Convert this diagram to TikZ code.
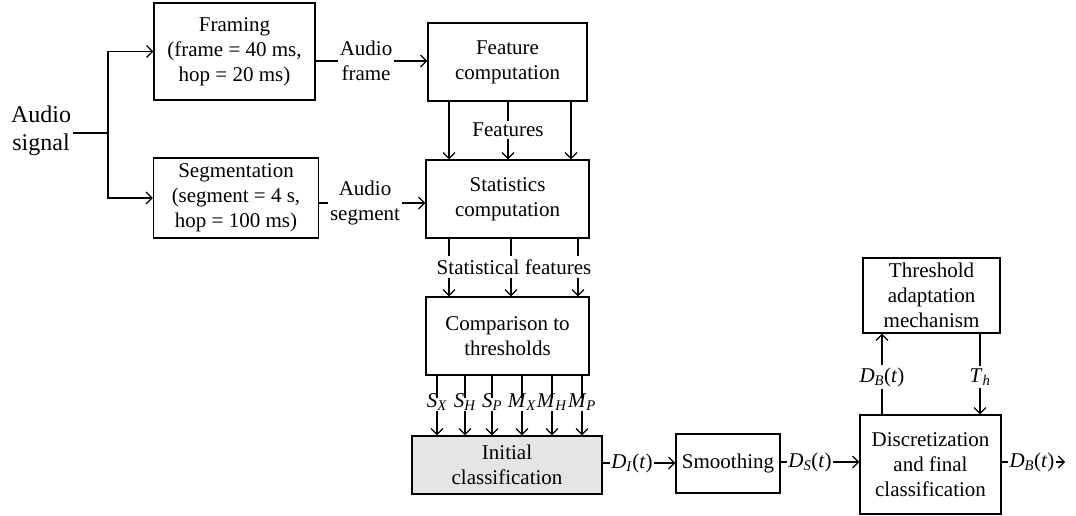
\documentclass[tikz,border=0pt]{standalone}
\usepackage{fontspec}
\setmainfont{Liberation Serif}
\usetikzlibrary{arrows.meta}
\newcommand{\mi}[1]{\textit{#1}}
\newcommand{\sbs}[2]{\textit{#1}\textsubscript{\textit{#2}}}
\begin{document}
\begin{tikzpicture}[x=1pt,y=-1pt,
  every node/.style={font=\fontsize{21}{25}\selectfont, align=center},
  blk/.style={draw, line width=1.2pt, inner sep=0pt},
  lbl/.style={inner sep=2pt},
  sym/.style={inner sep=0pt, text height=13pt, text depth=6pt},
  conn/.style={line width=1.2pt},
  arr/.style={conn, -{Straight Barb[length=6pt,width=12pt,line width=1.2pt]}},
]
\useasboundingbox (0,0) rectangle (1076,516);
% boxes
\node[blk, minimum width=161pt, minimum height=97pt] (fr) at (234.5,51.5) {Framing\\(frame = 40 ms,\\hop = 20 ms)};
\node[blk, minimum width=165pt, minimum height=80pt] (sg) at (236,198) {Segmentation\\(segment = 4 s,\\hop = 100 ms)};
\node[blk, minimum width=159pt, minimum height=78pt] (fc) at (507.5,62) {Feature\\computation};
\node[blk, minimum width=163pt, minimum height=78pt] (sc) at (507.5,199) {Statistics\\computation};
\node[blk, minimum width=163pt, minimum height=78pt] (cp) at (507.5,336) {Comparison to\\thresholds};
\node[blk, fill=black!10, minimum width=190pt, minimum height=58pt] (ic) at (507,465) {Initial\\classification};
\node[blk, minimum width=104pt, minimum height=59pt] (sm) at (728,463.5) {Smoothing};
\node[blk, minimum width=141pt, minimum height=99pt] (dc) at (930.5,464.5) {Discretization\\and final\\classification};
\node[blk, minimum width=137pt, minimum height=75pt] (th) at (931.5,295.5) {Threshold\\adaptation\\mechanism};
% audio signal
\node[lbl, font=\fontsize{24}{28}\selectfont] (as) at (41,131) {Audio\\signal};
\coordinate (sp) at (108,133);
\draw[conn] (as.east |- sp) -- (sp);
\draw[arr] (sp) |- (fr.west);
\draw[arr] (sp) |- (sg.west);
% audio frame / segment
\node[lbl] (af) at (366,61) {Audio\\frame};
\draw[conn] (fr.east |- af) -- (af.west);
\draw[arr] (af.east) -- (fc.west |- af);
\node[lbl] (as2) at (365,203) {Audio\\segment};
\draw[conn] (sg.east |- as2) -- (as2.west);
\draw[arr] (as2.east) -- (sc.west |- as2);
% features
\coordinate (f1) at (449,0);
\coordinate (f3) at (571,0);
\node[lbl] (ft) at (508,130) {Features};
\draw[arr] (fc.south -| f1) -- (sc.north -| f1);
\draw[arr] (fc.south -| f3) -- (sc.north -| f3);
\draw[conn] (fc.south -| ft) -- (ft.north);
\draw[arr] (ft.south) -- (sc.north -| ft);
% statistical features
\node[lbl, inner sep=3pt] (sf) at (514,267) {Statistical features};
\coordinate (s1) at (449,0);
\coordinate (s2) at (511,0);
\coordinate (s3) at (578,0);
\foreach \c in {s1,s2,s3}{
  \draw[conn] (sc.south -| \c) -- (sf.north -| \c);
  \draw[arr] (sf.south -| \c) -- (cp.north -| \c);
}
% thresholds outputs
\node[sym] (l1) at (437,404) {\sbs{S}{X}};
\node[sym] (l2) at (465,404) {\sbs{S}{H}};
\node[sym] (l3) at (492,404) {\sbs{S}{P}};
\node[sym] (l4) at (522,404) {\sbs{M}{X}};
\node[sym] (l5) at (552,404) {\sbs{M}{H}};
\node[sym] (l6) at (582,404) {\sbs{M}{P}};
\foreach \c in {l1,l2,l3,l4,l5,l6}{
  \draw[conn] (cp.south -| \c) -- ([yshift=-4pt]\c.north);
  \draw[arr] ([yshift=3pt]\c.south) -- (ic.north -| \c);
}
% bottom chain
\node[inner sep=1pt] (di) at (632,463) {\sbs{D}{I}(\mi{t})};
\draw[conn] (ic.east |- di) -- (di.west);
\draw[arr] (di.east) -- (sm.west |- di);
\node[inner sep=1pt] (ds) at (810,462) {\sbs{D}{S}(\mi{t})};
\draw[conn] (sm.east |- ds) -- (ds.west);
\draw[arr] (ds.east) -- (dc.west |- ds);
\node[inner sep=1pt] (db) at (1032,462) {\sbs{D}{B}(\mi{t})};
\coordinate (out) at (1065,462);
\draw[conn] (dc.east |- db) -- (db.west);
\draw[arr] (db.east) -- (out);
% feedback
\node[lbl] (dbu) at (882,377) {\sbs{D}{B}(\mi{t})};
\draw[conn] (dc.north -| dbu) -- (dbu.south);
\draw[arr] (dbu.north) -- (th.south -| dbu);
\node[lbl] (thl) at (980,377) {\sbs{T}{h}};
\draw[conn] (th.south -| thl) -- (thl.north);
\draw[arr] (thl.south) -- (dc.north -| thl);
\end{tikzpicture}
\end{document}
